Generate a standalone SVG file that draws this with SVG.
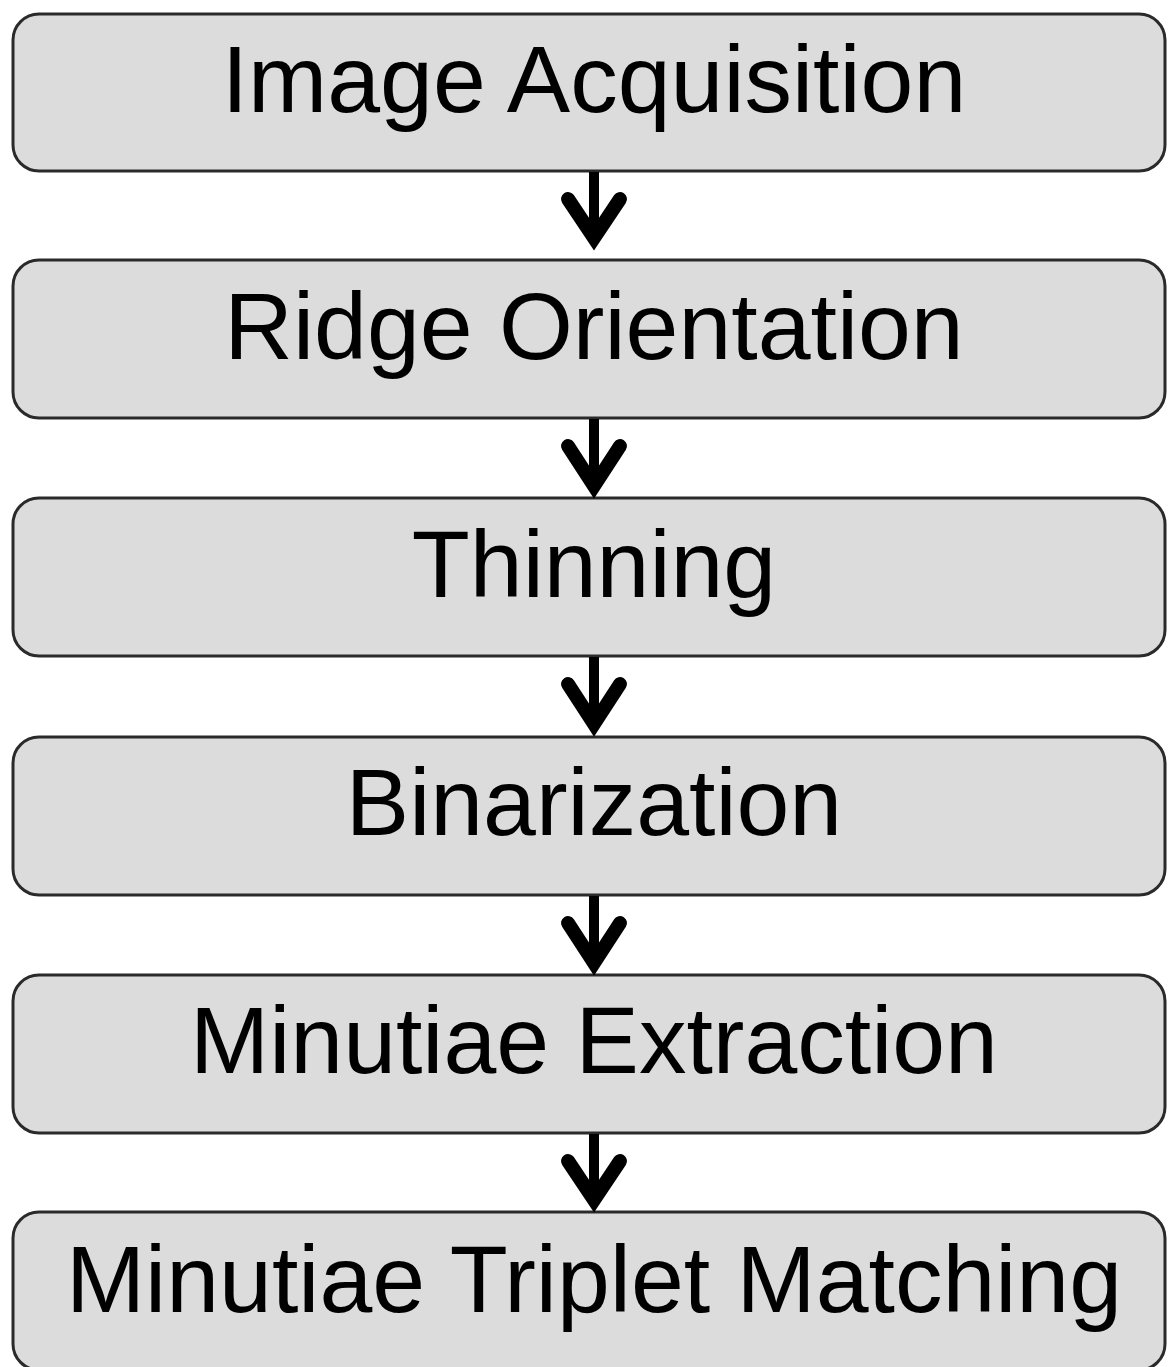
<svg xmlns="http://www.w3.org/2000/svg" width="1168" height="1367" viewBox="0 0 1168 1367">
<style>
.box{fill:#dcdcdc;stroke:#2a2a2a;stroke-width:3}
.lbl{font-family:"Liberation Sans",Arial,sans-serif;font-size:95px;fill:#000;text-anchor:middle}
.shaft{stroke:#000;stroke-width:10;fill:none}
.head{stroke:#000;stroke-width:14;fill:none;stroke-linecap:round;stroke-linejoin:miter}
</style>
<rect width="1168" height="1367" fill="#ffffff"/>
<g id="n1"><rect class="box" x="13" y="14" width="1152" height="157" rx="26"/><text class="lbl" x="594" y="112">Image Acquisition</text></g>
<g id="n2"><rect class="box" x="13" y="260" width="1152" height="158" rx="26"/><text class="lbl" x="594" y="359">Ridge Orientation</text></g>
<g id="n3"><rect class="box" x="13" y="498" width="1152" height="158" rx="26"/><text class="lbl" x="594" y="597">Thinning</text></g>
<g id="n4"><rect class="box" x="13" y="737" width="1152" height="158" rx="26"/><text class="lbl" x="594" y="835">Binarization</text></g>
<g id="n5"><rect class="box" x="13" y="975" width="1152" height="158" rx="26"/><text class="lbl" x="594" y="1073">Minutiae Extraction</text></g>
<g id="n6"><rect class="box" x="13" y="1212" width="1152" height="158" rx="26"/><text class="lbl" x="594" y="1312">Minutiae Triplet Matching</text></g>
<g id="connectors">
<line class="shaft" x1="594" y1="172" x2="594" y2="236"/><polyline class="head" points="568,199 594,238 620,199"/>
<line class="shaft" x1="594" y1="419" x2="594" y2="484"/><polyline class="head" points="568,446 594,486 620,446"/>
<line class="shaft" x1="594" y1="657" x2="594" y2="722"/><polyline class="head" points="568,684 594,724 620,684"/>
<line class="shaft" x1="594" y1="896" x2="594" y2="961"/><polyline class="head" points="568,923 594,963 620,923"/>
<line class="shaft" x1="594" y1="1134" x2="594" y2="1198"/><polyline class="head" points="568,1161 594,1200 620,1161"/>
</g>
</svg>
